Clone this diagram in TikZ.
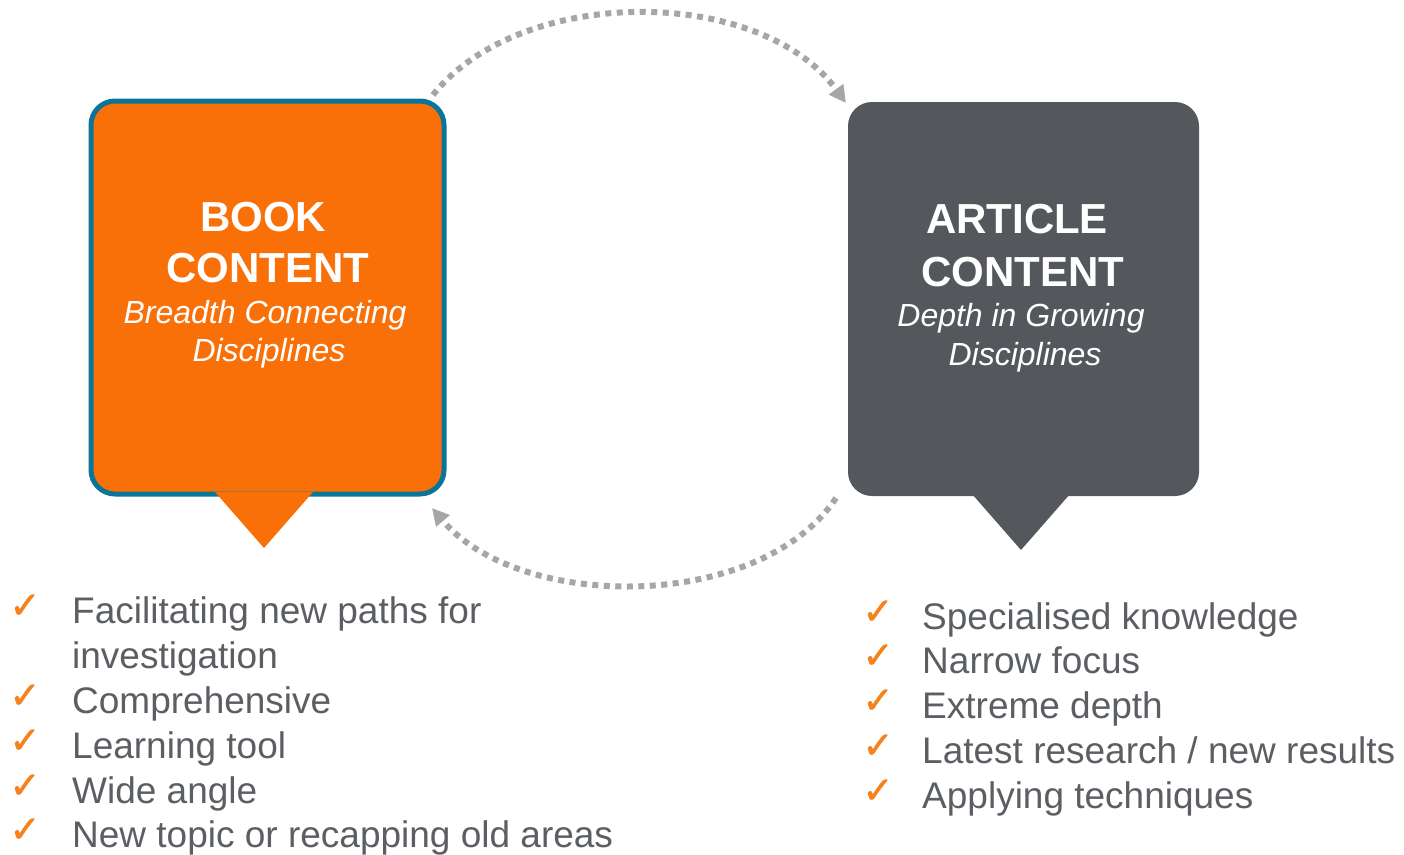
\documentclass[tikz,border=0pt]{standalone}
\usepackage{fontspec}
\setmainfont{Liberation Sans}
\newfontfamily\symfont{DejaVu Sans}[FakeBold=1.5]
\usetikzlibrary{arrows.meta}
\definecolor{borange}{HTML}{F97009}
\definecolor{bteal}{HTML}{0B7599}
\definecolor{agray}{HTML}{54575B}
\definecolor{txtgray}{HTML}{5B5E62}
\definecolor{chk}{HTML}{F5821F}
\definecolor{arrgray}{HTML}{A6A6A6}
\begin{document}
\begin{tikzpicture}[x=1pt,y=-1pt,
  title/.style={font=\fontsize{42}{48}\selectfont\bfseries, text=white, anchor=base, inner sep=0pt},
  sub/.style={font=\fontsize{32}{38}\selectfont\itshape, text=white, anchor=base, inner sep=0pt},
  item/.style={font=\fontsize{37}{42}\selectfont, text=txtgray, anchor=base west, inner sep=0pt},
  chkmark/.style={font=\symfont\fontsize{37}{37}\selectfont, text=chk, anchor=base, inner sep=0pt},
  cyclearrow/.style={draw=arrgray, line width=6pt, dash pattern=on 6pt off 5.5pt, -{Triangle[length=17pt,width=17pt]}}]
\useasboundingbox (0,0) rectangle (1404,854);
% boxes
\draw[fill=borange, draw=bteal, line width=5pt, rounded corners=24pt] (91,101) rectangle (444,494);
\node[inner sep=0pt, minimum width=353pt, minimum height=393pt] (book) at (267.5,297.5) {};
\fill[borange] (215,492) -- (313,492) -- (264,548) -- cycle;
\fill[agray, rounded corners=24pt] (848,102) rectangle (1199,496);
\node[inner sep=0pt, minimum width=351pt, minimum height=394pt] (article) at (1023.5,299) {};
\fill[agray] (972,494) -- (1070,494) -- (1021,550) -- cycle;
% titles
\node[title] (t1) at (263,231) {BOOK};
\node[title] (t2) at (268,282) {CONTENT};
\node[sub] (t3) at (265,323) {Breadth Connecting};
\node[sub] (t4) at (269,361) {Disciplines};
\node[title] (a1) at (1017,233) {ARTICLE};
\node[title] (a2) at (1023,286) {CONTENT};
\node[sub] (a3) at (1021,326) {Depth in Growing};
\node[sub] (a4) at (1025,365) {Disciplines};
% arrows
\coordinate (s1) at (433,95);
\coordinate (e1) at (846,103);
\coordinate (s2) at (836,498);
\coordinate (e2) at (432,508);
\draw[cyclearrow] (s1) .. controls (520,-15) and (760,-15) .. (e1);
\draw[cyclearrow] (s2) .. controls (760,612) and (520,612) .. (e2);
% left list
\node[chkmark] (c1) at (25,618) {✓};
\node[item] (l1) at (72,623) {Facilitating new paths for};
\node[item] (l1b) at (72,668) {investigation};
\node[chkmark] (c2) at (25,708) {✓};
\node[item] (l2) at (72,713) {Comprehensive};
\node[chkmark] (c3) at (25,753) {✓};
\node[item] (l3) at (72,758) {Learning tool};
\node[chkmark] (c4) at (25,798) {✓};
\node[item] (l4) at (72,803) {Wide angle};
\node[chkmark] (c5) at (25,842) {✓};
\node[item] (l5) at (72,847) {New topic or recapping old areas};
% right list
\node[chkmark] (r1c) at (878,624) {✓};
\node[item] (r1) at (922,629) {Specialised knowledge};
\node[chkmark] (r2c) at (878,668) {✓};
\node[item] (r2) at (922,673) {Narrow focus};
\node[chkmark] (r3c) at (878,713) {✓};
\node[item] (r3) at (922,718) {Extreme depth};
\node[chkmark] (r4c) at (878,758) {✓};
\node[item] (r4) at (922,763) {Latest research / new results};
\node[chkmark] (r5c) at (878,803) {✓};
\node[item] (r5) at (922,808) {Applying techniques};
\end{tikzpicture}
\end{document}
